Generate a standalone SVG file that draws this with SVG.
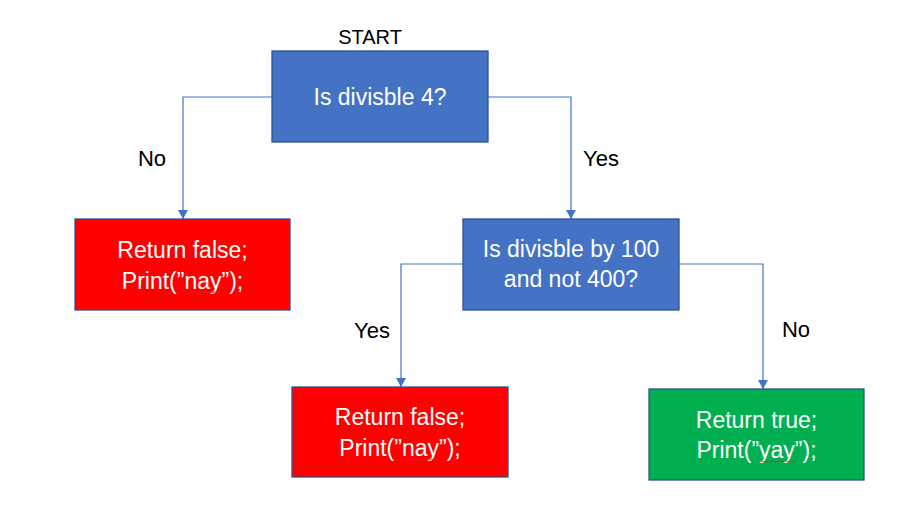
<svg xmlns="http://www.w3.org/2000/svg" width="917" height="506" viewBox="0 0 917 506">
<style>
.bg{fill:#ffffff}
.box{stroke:#2F528F;stroke-width:1.3}
.blue{fill:#4472C4}
.red{fill:#FF0000}
.green{fill:#00B050}
.t{font-family:"Liberation Sans",Arial,sans-serif;font-size:23px;fill:#ffffff;text-anchor:middle}
.lbl{font-family:"Liberation Sans",Arial,sans-serif;font-size:22px;fill:#000000}
.conn{fill:none;stroke:#4472C4;stroke-width:1.2}
.sq{fill:none;stroke:#E02020;stroke-width:0.9}
</style>
<defs>
<marker id="arr" markerUnits="userSpaceOnUse" markerWidth="10" markerHeight="10" viewBox="0 0 10 10" refX="5" refY="10" orient="0">
<path d="M0,1 L10,1 L5,10 Z" fill="#4472C4"/>
</marker>
</defs>
<rect class="bg" x="0" y="0" width="917" height="506"/>
<g id="connectors">
<path class="conn" d="M272,97 H183 V219" marker-end="url(#arr)"/>
<path class="conn" d="M488,97 H571 V219" marker-end="url(#arr)"/>
<path class="conn" d="M463,264 H401 V387" marker-end="url(#arr)"/>
<path class="conn" d="M679,264 H763 V389" marker-end="url(#arr)"/>
</g>
<g id="labels">
<text class="lbl" x="370" y="44" text-anchor="middle" style="font-size:20px">START</text>
<text class="lbl" x="152" y="166" text-anchor="middle">No</text>
<text class="lbl" x="601" y="166" text-anchor="middle">Yes</text>
<text class="lbl" x="372" y="338" text-anchor="middle">Yes</text>
<text class="lbl" x="796" y="337" text-anchor="middle">No</text>
</g>
<g id="n1">
<rect class="box blue" x="272" y="51" width="216" height="91"/>
<text class="t" x="380" y="105">Is divisble 4?</text>
</g>
<g id="n2">
<rect class="box red" x="75" y="219" width="215" height="91"/>
<text class="t" x="182.5" y="258">Return false;</text>
<text class="t" x="182.5" y="289">Print(”nay”);</text>
<path class="sq" d="M184.5,292 l1.5,1 l1.5,-1 l1.5,1 l1.5,-1 l1.5,1 l1.5,-1 l1.5,1 l1.5,-1 l1.5,1 l1.5,-1 l1.5,1 l1.5,-1 l1.5,1 l1.5,-1 l1.5,1 l1.5,-1 l1.5,1 l1.5,-1 l1.5,1 l1.5,-1 l1.5,1 l1.5,-1 l1.5,1 l1.5,-1"/>
</g>
<g id="n3">
<rect class="box blue" x="463" y="219" width="216" height="91"/>
<text class="t" x="571" y="257">Is divisble by 100</text>
<text class="t" x="571" y="287">and not 400?</text>
</g>
<g id="n4">
<rect class="box red" x="292" y="387" width="216" height="90"/>
<text class="t" x="400" y="425">Return false;</text>
<text class="t" x="400" y="456">Print(”nay”);</text>
<path class="sq" d="M402,459 l1.5,1 l1.5,-1 l1.5,1 l1.5,-1 l1.5,1 l1.5,-1 l1.5,1 l1.5,-1 l1.5,1 l1.5,-1 l1.5,1 l1.5,-1 l1.5,1 l1.5,-1 l1.5,1 l1.5,-1 l1.5,1 l1.5,-1 l1.5,1 l1.5,-1 l1.5,1 l1.5,-1 l1.5,1 l1.5,-1"/>
</g>
<g id="n5">
<rect class="box green" x="649" y="389" width="215" height="91"/>
<text class="t" x="756.5" y="428">Return true;</text>
<text class="t" x="756.5" y="458">Print(”yay”);</text>
<path class="sq" d="M759,461 l1.5,1 l1.5,-1 l1.5,1 l1.5,-1 l1.5,1 l1.5,-1 l1.5,1 l1.5,-1 l1.5,1 l1.5,-1 l1.5,1 l1.5,-1 l1.5,1 l1.5,-1 l1.5,1 l1.5,-1 l1.5,1 l1.5,-1 l1.5,1 l1.5,-1 l1.5,1 l1.5,-1 l1.5,1 l1.5,-1"/>
</g>
</svg>
